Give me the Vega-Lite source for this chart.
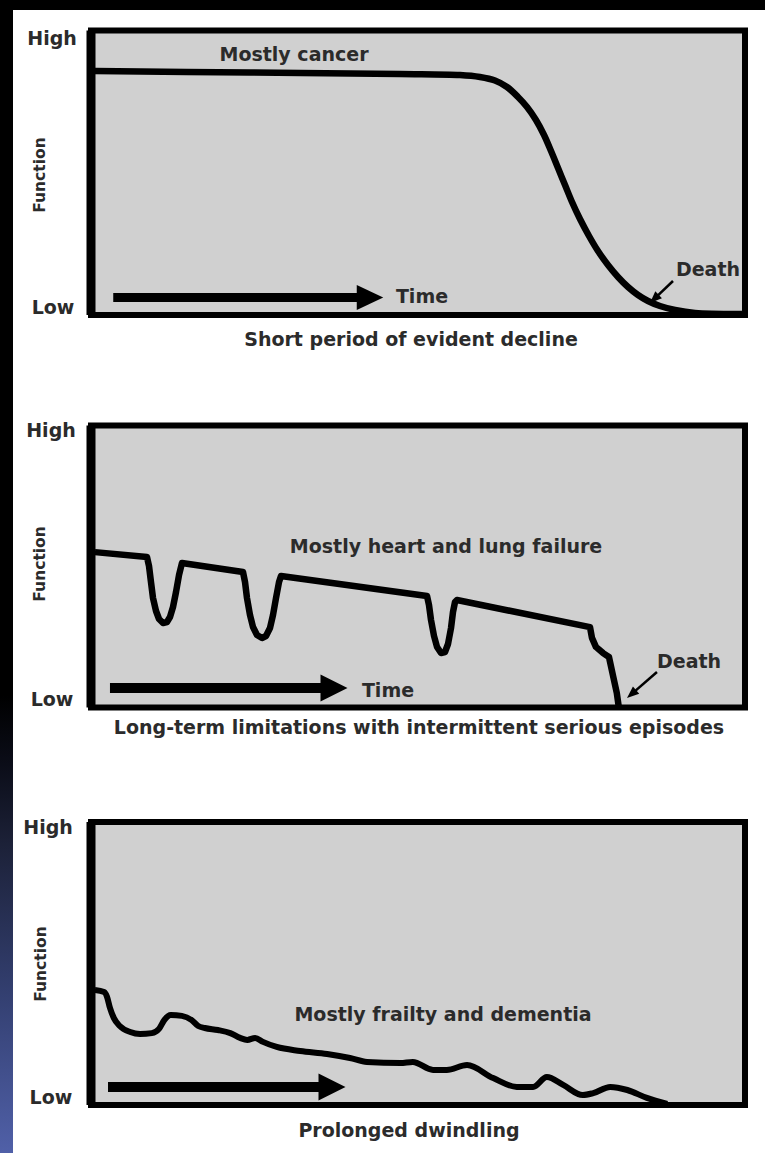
{
  "$schema": "https://vega.github.io/schema/vega-lite/v6.json",
  "background": "#000000",
  "padding": {"top": 10, "left": 0, "right": 0, "bottom": 0},
  "config": {"view": {"stroke": null, "fill": "#ffffff"}, "concat": {"spacing": 0}},
  "datasets": {
    "strip": [{"x0": 0, "x1": 1, "y0": 0, "y1": 1}],
    "box": [{"t": 0, "t2": 100, "f": 0, "f2": 100}],
    "edge": [{"t": 0, "f": 0, "f2": 100}],
    "c1": [{"t":0.61,"f":85.76},{"t":24.31,"f":85.24},{"t":47.25,"f":84.71},{"t":56.42,"f":84.36},{"t":59.48,"f":83.66},{"t":61.77,"f":82.43},{"t":63.61,"f":80.14},{"t":65.29,"f":76.63},{"t":66.67,"f":73.11},{"t":68.04,"f":68.54},{"t":69.27,"f":63.27},{"t":70.34,"f":57.64},{"t":71.41,"f":51.67},{"t":72.48,"f":45.69},{"t":73.55,"f":39.72},{"t":74.77,"f":33.74},{"t":76.15,"f":27.77},{"t":77.52,"f":22.5},{"t":79.05,"f":17.57},{"t":80.58,"f":13.36},{"t":82.11,"f":9.84},{"t":83.64,"f":7.03},{"t":85.17,"f":4.92},{"t":87.0,"f":3.16},{"t":89.3,"f":1.76},{"t":92.35,"f":0.7},{"t":99.54,"f":0.35}],
    "c2": [{"t":0.6,"f":55.1},{"t":8.56,"f":53.37},{"t":8.87,"f":50.18},{"t":9.17,"f":44.5},{"t":9.48,"f":38.83},{"t":9.94,"f":34.22},{"t":10.4,"f":31.38},{"t":11.01,"f":29.96},{"t":11.62,"f":30.32},{"t":12.08,"f":32.09},{"t":12.54,"f":35.64},{"t":13.0,"f":40.96},{"t":13.46,"f":46.99},{"t":13.91,"f":51.24},{"t":23.24,"f":48.05},{"t":23.55,"f":44.5},{"t":23.85,"f":38.83},{"t":24.31,"f":32.8},{"t":24.77,"f":28.55},{"t":25.38,"f":25.71},{"t":26.15,"f":24.65},{"t":26.76,"f":25.35},{"t":27.37,"f":28.19},{"t":27.83,"f":32.8},{"t":28.29,"f":38.83},{"t":28.75,"f":44.5},{"t":29.05,"f":46.63},{"t":51.38,"f":39.54},{"t":51.68,"f":36.35},{"t":51.99,"f":31.03},{"t":52.45,"f":25.35},{"t":52.91,"f":21.45},{"t":53.52,"f":19.33},{"t":54.13,"f":19.68},{"t":54.59,"f":22.52},{"t":55.05,"f":28.19},{"t":55.35,"f":33.87},{"t":55.66,"f":37.41},{"t":55.96,"f":38.12},{"t":76.3,"f":28.5},{"t":76.6,"f":24.7},{"t":77.2,"f":21.5},{"t":78.3,"f":19.3},{"t":79.2,"f":17.9},{"t":79.8,"f":11.5},{"t":80.4,"f":5.1},{"t":80.7,"f":0.2}],
    "c3": [{"t":0.6,"f":40.6},{"t":2.0,"f":39.9},{"t":2.45,"f":38.2},{"t":2.9,"f":34.3},{"t":3.5,"f":30.7},{"t":4.4,"f":27.9},{"t":6.0,"f":25.8},{"t":7.5,"f":25.1},{"t":9.3,"f":25.4},{"t":10.4,"f":26.9},{"t":11.2,"f":30.0},{"t":12.2,"f":31.8},{"t":13.9,"f":31.5},{"t":15.4,"f":30.0},{"t":16.4,"f":27.9},{"t":17.4,"f":27.2},{"t":19.4,"f":26.5},{"t":21.3,"f":25.4},{"t":22.8,"f":23.7},{"t":23.9,"f":23.0},{"t":25.1,"f":23.7},{"t":26.3,"f":22.3},{"t":28.4,"f":20.5},{"t":32.0,"f":19.1},{"t":36.1,"f":18.0},{"t":39.6,"f":16.6},{"t":42.2,"f":15.2},{"t":47.3,"f":14.8},{"t":49.2,"f":15.2},{"t":52.3,"f":12.4},{"t":54.4,"f":12.4},{"t":57.5,"f":14.1},{"t":61.5,"f":9.5},{"t":65.1,"f":6.4},{"t":67.6,"f":6.4},{"t":69.7,"f":9.9},{"t":72.2,"f":7.1},{"t":75.2,"f":3.5},{"t":76.8,"f":4.2},{"t":79.4,"f":6.4},{"t":82.0,"f":5.3},{"t":85.0,"f":2.5},{"t":88.1,"f":0.35}],
    "a1": [{"t": 3.4, "t2": 41.9, "f": 6.15}],
    "h1": [{"t": 42.66, "f": 6.15}],
    "a2": [{"t": 2.9, "t2": 36.5, "f": 6.9}],
    "h2": [{"t": 37.16, "f": 6.9}],
    "a3": [{"t": 2.6, "t2": 36.2, "f": 6.36}],
    "h3": [{"t": 36.85, "f": 6.36}],
    "d1": [{"t": 88.99, "f": 11.95, "t2": 86.13, "f2": 5.69}],
    "dh1": [{"t": 86.13, "f": 5.69}],
    "d2": [{"t": 86.54, "f": 12.59, "t2": 82.65, "f2": 4.75}],
    "dh2": [{"t": 82.65, "f": 4.75}],
    "l1": [{"t":-5.96,"f":94.9,"label":"High"},{"t":-5.81,"f":0.35,"label":"Low"},{"t":31.04,"f":89.28,"label":"Mostly cancer"},{"t":50.61,"f":4.22,"label":"Time"},{"t":94.34,"f":13.71,"label":"Death"},{"t":48.93,"f":-10.9,"label":"Short period of evident decline"}],
    "fn1": [{"t":-7.8,"f":49.2,"label":"Function"}],
    "l2": [{"t":-6.12,"f":95.92,"label":"High"},{"t":-5.96,"f":0.53,"label":"Low"},{"t":54.28,"f":54.79,"label":"Mostly heart and lung failure"},{"t":45.41,"f":3.72,"label":"Time"},{"t":91.44,"f":14.01,"label":"Death"},{"t":50.15,"f":-9.4,"label":"Long-term limitations with intermittent serious episodes"}],
    "fn2": [{"t":-7.8,"f":50.9,"label":"Function"}],
    "l3": [{"t":-6.57,"f":95.76,"label":"High"},{"t":-6.12,"f":0.35,"label":"Low"},{"t":53.82,"f":29.68,"label":"Mostly frailty and dementia"},{"t":48.62,"f":-11.3,"label":"Prolonged dwindling"}],
    "fn3": [{"t":-7.65,"f":49.8,"label":"Function"}]
  },
  "spacing": 0,
  "hconcat": [
    {
      "width": 13, "height": 1143,
      "data": {"name": "strip"},
      "mark": {"type": "rect", "stroke": null, "fill": {"gradient": "linear", "x1": 0, "y1": 0, "x2": 0, "y2": 1, "stops": [{"offset": 0, "color": "#000000"}, {"offset": 0.6, "color": "#000000"}, {"offset": 0.66, "color": "#0b0d18"}, {"offset": 0.73, "color": "#1c2138"}, {"offset": 0.86, "color": "#333f70"}, {"offset": 1, "color": "#5060a8"}]}},
      "encoding": {
        "x": {"field": "x0", "type": "quantitative", "scale": {"domain": [0, 1], "nice": false}, "axis": null},
        "x2": {"field": "x1"},
        "y": {"field": "y0", "type": "quantitative", "scale": {"domain": [0, 1], "nice": false}, "axis": null},
        "y2": {"field": "y1"}
      }
    },
    {
      "spacing": 0,
      "vconcat": [
        {
          "width": 752, "height": 370,
          "encoding": {
            "x": {"field": "t", "type": "quantitative", "scale": {"domain": [-11.927, 103.058], "nice": false, "zero": false}, "axis": null},
            "y": {"field": "f", "type": "quantitative", "scale": {"domain": [-22.847, 107.206], "nice": false, "zero": false}, "axis": null}
          },
          "layer": [
            {"data": {"name": "box"}, "mark": {"type": "rect", "fill": "#d0d0d0", "stroke": "#000000", "strokeWidth": 6}, "encoding": {"x2": {"field": "t2"}, "y2": {"field": "f2"}}},
            {"data": {"name": "edge"}, "mark": {"type": "rule", "color": "#000000", "strokeWidth": 9}, "encoding": {"y2": {"field": "f2"}}},
            {"data": {"name": "c1"}, "mark": {"type": "line", "color": "#000000", "strokeWidth": 6.5, "interpolate": "catmull-rom", "strokeJoin": "round"}, "encoding": {}},
            {"data": {"name": "a1"}, "mark": {"type": "rule", "color": "#000000", "strokeWidth": 9}, "encoding": {"x2": {"field": "t2"}}},
            {"data": {"name": "h1"}, "mark": {"type": "point", "shape": "M-1,-0.95L1,0L-1,0.95Z", "size": 700, "filled": true, "color": "#000000", "opacity": 1, "strokeWidth": 0}},
            {"data": {"name": "d1"}, "mark": {"type": "rule", "color": "#000000", "strokeWidth": 2.5}, "encoding": {"x2": {"field": "t2"}, "y2": {"field": "f2"}}},
            {"data": {"name": "dh1"}, "mark": {"type": "point", "shape": "M-1,-0.8L1,0L-1,0.8Z", "size": 144, "angle": 136.3, "filled": true, "color": "#000000", "opacity": 1, "strokeWidth": 0}},
            {"data": {"name": "l1"}, "mark": {"type": "text", "font": "DejaVu Sans", "fontSize": 19, "fontWeight": "bold", "color": "#2b2b2b", "align": "center", "baseline": "alphabetic"}, "encoding": {"text": {"field": "label"}}},
            {"data": {"name": "fn1"}, "mark": {"type": "text", "font": "DejaVu Sans", "fontSize": 15.5, "fontWeight": "bold", "color": "#2b2b2b", "align": "center", "baseline": "middle", "angle": 270}, "encoding": {"text": {"field": "label"}}}
          ]
        },
        {
          "width": 752, "height": 395,
          "encoding": {
            "x": {"field": "t", "type": "quantitative", "scale": {"domain": [-11.927, 103.058], "nice": false, "zero": false}, "axis": null},
            "y": {"field": "f", "type": "quantitative", "scale": {"domain": [-23.936, 116.135], "nice": false, "zero": false}, "axis": null}
          },
          "layer": [
            {"data": {"name": "box"}, "mark": {"type": "rect", "fill": "#d0d0d0", "stroke": "#000000", "strokeWidth": 6}, "encoding": {"x2": {"field": "t2"}, "y2": {"field": "f2"}}},
            {"data": {"name": "edge"}, "mark": {"type": "rule", "color": "#000000", "strokeWidth": 9}, "encoding": {"y2": {"field": "f2"}}},
            {"data": {"name": "c2"}, "mark": {"type": "line", "color": "#000000", "strokeWidth": 6.5, "interpolate": "linear", "strokeJoin": "round"}, "encoding": {}},
            {"data": {"name": "a2"}, "mark": {"type": "rule", "color": "#000000", "strokeWidth": 10}, "encoding": {"x2": {"field": "t2"}}},
            {"data": {"name": "h2"}, "mark": {"type": "point", "shape": "M-1,-1L1,0L-1,1Z", "size": 729, "filled": true, "color": "#000000", "opacity": 1, "strokeWidth": 0}},
            {"data": {"name": "d2"}, "mark": {"type": "rule", "color": "#000000", "strokeWidth": 2.5}, "encoding": {"x2": {"field": "t2"}, "y2": {"field": "f2"}}},
            {"data": {"name": "dh2"}, "mark": {"type": "point", "shape": "M-1,-0.8L1,0L-1,0.8Z", "size": 144, "angle": 139.1, "filled": true, "color": "#000000", "opacity": 1, "strokeWidth": 0}},
            {"data": {"name": "l2"}, "mark": {"type": "text", "font": "DejaVu Sans", "fontSize": 19, "fontWeight": "bold", "color": "#2b2b2b", "align": "center", "baseline": "alphabetic"}, "encoding": {"text": {"field": "label"}}},
            {"data": {"name": "fn2"}, "mark": {"type": "text", "font": "DejaVu Sans", "fontSize": 15.5, "fontWeight": "bold", "color": "#2b2b2b", "align": "center", "baseline": "middle", "angle": 270}, "encoding": {"text": {"field": "label"}}}
          ]
        },
        {
          "width": 752, "height": 378,
          "encoding": {
            "x": {"field": "t", "type": "quantitative", "scale": {"domain": [-11.927, 103.058], "nice": false, "zero": false}, "axis": null},
            "y": {"field": "f", "type": "quantitative", "scale": {"domain": [-16.961, 116.608], "nice": false, "zero": false}, "axis": null}
          },
          "layer": [
            {"data": {"name": "box"}, "mark": {"type": "rect", "fill": "#d0d0d0", "stroke": "#000000", "strokeWidth": 6}, "encoding": {"x2": {"field": "t2"}, "y2": {"field": "f2"}}},
            {"data": {"name": "edge"}, "mark": {"type": "rule", "color": "#000000", "strokeWidth": 9}, "encoding": {"y2": {"field": "f2"}}},
            {"data": {"name": "c3"}, "mark": {"type": "line", "color": "#000000", "strokeWidth": 6, "interpolate": "monotone", "strokeJoin": "round"}, "encoding": {}},
            {"data": {"name": "a3"}, "mark": {"type": "rule", "color": "#000000", "strokeWidth": 10}, "encoding": {"x2": {"field": "t2"}}},
            {"data": {"name": "h3"}, "mark": {"type": "point", "shape": "M-1,-1L1,0L-1,1Z", "size": 729, "filled": true, "color": "#000000", "opacity": 1, "strokeWidth": 0}},
            {"data": {"name": "l3"}, "mark": {"type": "text", "font": "DejaVu Sans", "fontSize": 19, "fontWeight": "bold", "color": "#2b2b2b", "align": "center", "baseline": "alphabetic"}, "encoding": {"text": {"field": "label"}}},
            {"data": {"name": "fn3"}, "mark": {"type": "text", "font": "DejaVu Sans", "fontSize": 15.5, "fontWeight": "bold", "color": "#2b2b2b", "align": "center", "baseline": "middle", "angle": 270}, "encoding": {"text": {"field": "label"}}}
          ]
        }
      ]
    }
  ]
}
